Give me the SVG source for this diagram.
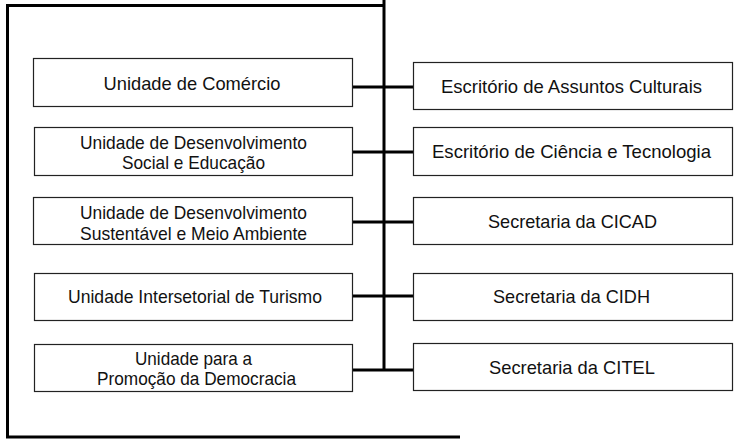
<svg xmlns="http://www.w3.org/2000/svg" width="736" height="439" viewBox="0 0 736 439">
<style>
.box{fill:#fff;stroke:#222;stroke-width:1.2}
.t{font-family:"Liberation Sans",Arial,sans-serif;font-size:19px;fill:#111;text-anchor:middle}
.ln{stroke:#000;stroke-width:3;fill:none}
</style>
<rect width="736" height="439" fill="#fff"/>
<g id="connectors">
<path class="ln" d="M384 0V370"/>
<path class="ln" d="M384 5.5H7.5V437H460" />
<path class="ln" d="M352 87H413M352 152H413M352 222H413M352 296H413M352 370H413"/>
</g>
<g id="n1"><rect class="box" x="33.5" y="58.5" width="319" height="48"/><text class="t" x="192" y="89.5" textLength="177" lengthAdjust="spacingAndGlyphs">Unidade de Comércio</text></g>
<g id="n2"><rect class="box" x="34.5" y="127.5" width="318" height="48"/><text class="t" x="193.5" y="148.5" textLength="227" lengthAdjust="spacingAndGlyphs">Unidade de Desenvolvimento</text><text class="t" x="193.5" y="168.5" textLength="143" lengthAdjust="spacingAndGlyphs">Social e Educação</text></g>
<g id="n3"><rect class="box" x="33.5" y="197.5" width="319" height="47"/><text class="t" x="193.5" y="218.5" textLength="227" lengthAdjust="spacingAndGlyphs">Unidade de Desenvolvimento</text><text class="t" x="193.5" y="239.5" textLength="227" lengthAdjust="spacingAndGlyphs">Sustentável e Meio Ambiente</text></g>
<g id="n4"><rect class="box" x="34.5" y="273.5" width="318" height="47"/><text class="t" x="195" y="303" textLength="254" lengthAdjust="spacingAndGlyphs">Unidade Intersetorial de Turismo</text></g>
<g id="n5"><rect class="box" x="34.5" y="344.5" width="318" height="47"/><text class="t" x="193.5" y="364.5" textLength="117" lengthAdjust="spacingAndGlyphs">Unidade para a</text><text class="t" x="196.5" y="385" textLength="199" lengthAdjust="spacingAndGlyphs">Promoção da Democracia</text></g>
<g id="r1"><rect class="box" x="413.5" y="62.5" width="319" height="47"/><text class="t" x="571.5" y="92.5" textLength="261" lengthAdjust="spacingAndGlyphs">Escritório de Assuntos Culturais</text></g>
<g id="r2"><rect class="box" x="413.5" y="127.5" width="319" height="48"/><text class="t" x="571.5" y="157.5" textLength="279" lengthAdjust="spacingAndGlyphs">Escritório de Ciência e Tecnologia</text></g>
<g id="r3"><rect class="box" x="413.5" y="197.5" width="319" height="47"/><text class="t" x="572.5" y="228" textLength="169" lengthAdjust="spacingAndGlyphs">Secretaria da CICAD</text></g>
<g id="r4"><rect class="box" x="413.5" y="273.5" width="319" height="47"/><text class="t" x="571.5" y="303" textLength="157" lengthAdjust="spacingAndGlyphs">Secretaria da CIDH</text></g>
<g id="r5"><rect class="box" x="413.5" y="343.5" width="319" height="47"/><text class="t" x="572" y="374" textLength="166" lengthAdjust="spacingAndGlyphs">Secretaria da CITEL</text></g>
</svg>
